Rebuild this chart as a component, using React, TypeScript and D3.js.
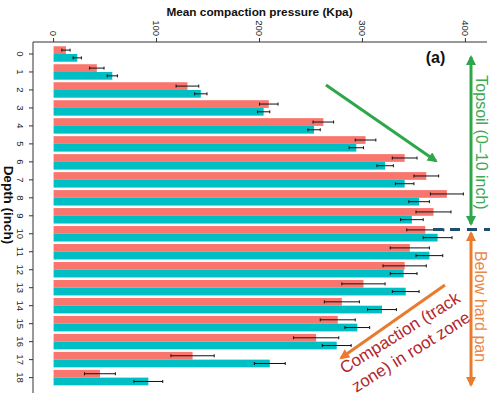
import * as d3 from 'd3'

const depths = ['0', '1', '2', '3', '4', '5', '6', '7', '8', '9', '10', '11', '12', '13', '14', '15', '16', '17', '18']
const redValues = [12, 42, 130, 209, 262, 303, 341, 362, 382, 369, 361, 346, 341, 301, 280, 276, 255, 135, 45]
const redErr = [4, 7, 11, 9, 10, 10, 12, 12, 16, 17, 18, 19, 21, 21, 17, 17, 22, 21, 15]
const tealValues = [23, 57, 143, 204, 253, 294, 322, 341, 355, 348, 373, 365, 340, 342, 319, 295, 275, 210, 92]
const tealErr = [4, 5, 6, 6, 6, 7, 8, 9, 10, 11, 14, 13, 13, 13, 14, 12, 14, 15, 14]
const xTicks = [0, 100, 200, 300, 400]

const W = 490
const H = 398
const FONT = '"Liberation Sans", Arial, sans-serif'
const RED = '#F8766D'
const TEAL = '#00BFC4'
const GREEN = '#2EA64A'
const ORANGE = '#E97B2F'

export default function App() {
  const x = d3.scaleLinear().domain([-20, 420]).range([33, 486])
  const y = d3.scaleBand().domain(depths).range([45, 386.6]).paddingInner(0.14).paddingOuter(0.07)
  const sub = d3.scaleBand().domain(['red', 'teal']).range([0, y.bandwidth()])

  const series = [
    { key: 'red', values: redValues, err: redErr, color: RED },
    { key: 'teal', values: tealValues, err: tealErr, color: TEAL },
  ]

  const axisY = 42
  const axisX = 33

  return (
    <svg width={W} height={H} style={{ position: 'absolute', left: 0, top: 0, background: '#fff' }} fontFamily={FONT}>
      <defs>
        <marker id="hg" viewBox="0 0 10 10" refX="8" refY="5" markerWidth="11" markerHeight="10" markerUnits="userSpaceOnUse" orient="auto-start-reverse">
          <path d="M0,0 L10,5 L0,10 z" fill={GREEN} />
        </marker>
        <marker id="ho" viewBox="0 0 10 10" refX="8" refY="5" markerWidth="11" markerHeight="10" markerUnits="userSpaceOnUse" orient="auto-start-reverse">
          <path d="M0,0 L10,5 L0,10 z" fill={ORANGE} />
        </marker>
      </defs>

      {/* bars */}
      {series.map((s) =>
        depths.map((d, i) => (
          <rect
            key={s.key + d}
            x={x(0)}
            y={(y(d) ?? 0) + (sub(s.key) ?? 0)}
            width={x(s.values[i]) - x(0)}
            height={sub.bandwidth()}
            fill={s.color}
          />
        ))
      )}

      {/* error bars */}
      {series.map((s) =>
        depths.map((d, i) => {
          const cy = (y(d) ?? 0) + (sub(s.key) ?? 0) + sub.bandwidth() / 2
          const x0 = x(s.values[i] - s.err[i])
          const x1 = x(s.values[i] + s.err[i])
          return (
            <g key={'e' + s.key + d} stroke="#111" strokeWidth={1}>
              <line x1={x0} x2={x1} y1={cy} y2={cy} />
              <line x1={x0} x2={x0} y1={cy - 1.5} y2={cy + 1.5} />
              <line x1={x1} x2={x1} y1={cy - 1.5} y2={cy + 1.5} />
            </g>
          )
        })
      )}

      {/* top axis */}
      <line x1={axisX} x2={487} y1={axisY} y2={axisY} stroke="#333" strokeWidth={1} />
      {xTicks.map((t) => (
        <g key={'xt' + t}>
          <line x1={x(t)} x2={x(t)} y1={axisY} y2={axisY - 4} stroke="#333" />
          <text
            transform={`translate(${x(t)},${axisY - 6}) rotate(90)`}
            textAnchor="end"
            dominantBaseline="central"
            fontSize={9.5}
            fill="#222"
          >
            {t}
          </text>
        </g>
      ))}
      <text x={259.5} y={15.5} textAnchor="middle" fontSize={11.8} fontWeight="bold" fill="#111">
        Mean compaction pressure (Kpa)
      </text>

      {/* left axis */}
      <line x1={axisX} x2={axisX} y1={axisY} y2={393} stroke="#333" strokeWidth={1} />
      {depths.map((d) => {
        const cy = (y(d) ?? 0) + y.bandwidth() / 2
        return (
          <g key={'yt' + d}>
            <line x1={axisX - 4} x2={axisX} y1={cy} y2={cy} stroke="#333" />
            <text
              transform={`translate(20,${cy}) rotate(90)`}
              textAnchor="middle"
              dominantBaseline="central"
              fontSize={9.5}
              fill="#222"
            >
              {d}
            </text>
          </g>
        )
      })}
      <text
        transform="translate(8,205) rotate(90)"
        textAnchor="middle"
        dominantBaseline="central"
        fontSize={13.5}
        fontWeight="bold"
        fill="#111"
      >
        Depth (inch)
      </text>

      {/* annotations */}
      <text x={435.5} y={63} textAnchor="middle" fontSize={16} fontWeight="bold" fill="#111">
        (a)
      </text>
      <line x1={326} y1={85} x2={436} y2={161} stroke={GREEN} strokeWidth={3} markerEnd="url(#hg)" />
      <line x1={471} y1={57} x2={471} y2={224} stroke={GREEN} strokeWidth={3} markerStart="url(#hg)" markerEnd="url(#hg)" />
      <text
        transform="translate(481,142.5) rotate(90)"
        textAnchor="middle"
        dominantBaseline="central"
        fontSize={16}
        fill="#3DAA55"
      >
        Topsoil (0–10 inch)
      </text>
      <line x1={433} x2={490} y1={229.5} y2={229.5} stroke="#1F4E6E" strokeWidth={3} strokeDasharray="10 7" />
      <line x1={471} y1={233} x2={471} y2={385} stroke={ORANGE} strokeWidth={3} markerStart="url(#ho)" markerEnd="url(#ho)" />
      <text
        transform="translate(480,306.5) rotate(90)"
        textAnchor="middle"
        dominantBaseline="central"
        fontSize={16}
        fill="#E8894A"
      >
        Below hard pan
      </text>
      <line x1={445} y1={285} x2={341} y2={358} stroke={ORANGE} strokeWidth={3} markerEnd="url(#ho)" />
      <g fill="#B3262E" fontSize={17}>
        <text transform="translate(400,333) rotate(-32)" textAnchor="middle" dominantBaseline="central">
          Compaction (track
        </text>
        <text transform="translate(411,352) rotate(-32)" textAnchor="middle" dominantBaseline="central">
          zone) in root zone
        </text>
      </g>
    </svg>
  )
}
